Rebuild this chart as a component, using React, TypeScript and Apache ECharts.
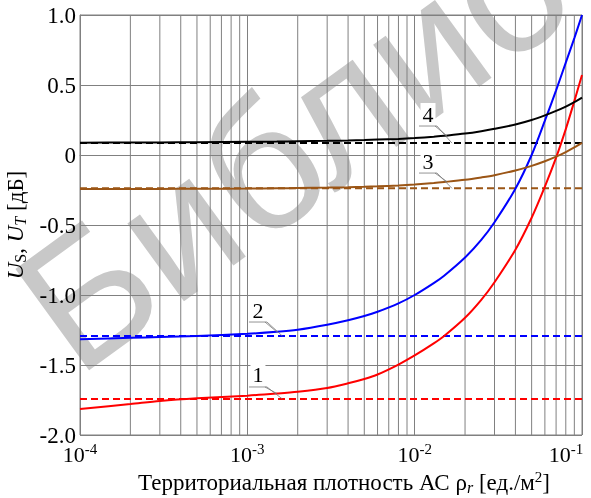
import React, { useEffect, useRef } from 'react';
import * as echarts from 'echarts';

// Territorial density of access points, units/m^2
const rho = [1e-4, 2e-4, 3e-4, 5e-4, 1e-3, 1.5e-3, 2e-3, 3e-3, 4e-3, 5e-3, 6e-3, 8e-3, 1e-2, 1.3e-2, 1.5e-2, 2e-2, 2.5e-2, 3e-2, 4e-2, 5e-2, 6e-2, 7e-2, 8e-2, 9e-2, 0.1];

// Solid curves (dB)
const curve1 = [-1.814, -1.779, -1.757, -1.738, -1.719, -1.704, -1.691, -1.664, -1.631, -1.6, -1.568, -1.497, -1.432, -1.346, -1.293, -1.163, -1.035, -0.909, -0.676, -0.448, -0.226, -0.019, 0.185, 0.385, 0.571];
const curve2 = [-1.316, -1.306, -1.3, -1.292, -1.277, -1.263, -1.248, -1.212, -1.18, -1.15, -1.12, -1.06, -1.0, -0.915, -0.862, -0.732, -0.606, -0.48, -0.241, 0.0, 0.245, 0.462, 0.66, 0.835, 1.0];
const curve3 = [-0.243, -0.242, -0.242, -0.241, -0.24, -0.238, -0.236, -0.233, -0.23, -0.227, -0.224, -0.217, -0.21, -0.2, -0.193, -0.177, -0.16, -0.144, -0.111, -0.078, -0.045, -0.012, 0.021, 0.054, 0.086];
const curve4 = [0.088, 0.089, 0.09, 0.091, 0.094, 0.096, 0.098, 0.101, 0.104, 0.107, 0.11, 0.115, 0.121, 0.13, 0.137, 0.153, 0.17, 0.187, 0.218, 0.25, 0.283, 0.315, 0.346, 0.378, 0.41];

// Dashed asymptotic levels (dB) for curves 1..4
const dashLevels = [-1.743, -1.293, -0.238, 0.085];

const curveNames = ['1', '2', '3', '4'];
const curveColors = ['#ff0000', '#0000ff', '#9b5515', '#000000'];

// Minor vertical grid positions
const minorGrid = [2e-4, 3e-4, 4e-4, 5e-4, 6e-4, 7e-4, 8e-4, 9e-4, 2e-3, 3e-3, 4e-3, 5e-3, 6e-3, 7e-3, 8e-3, 9e-3, 2e-2, 3e-2, 4e-2, 5e-2, 6e-2, 7e-2, 8e-2, 9e-2];

// Curve labels: elbow point, solid-curve target, dashed-line target (data coords)
const annotations = [
  { text: '4', elbow: [1.36e-2, 0.207], solid: [1.56e-2, 0.137], dash: [1.67e-2, 0.085] },
  { text: '3', elbow: [1.36e-2, -0.129], solid: [1.56e-2, -0.19], dash: [1.67e-2, -0.238] },
  { text: '2', elbow: [1.31e-3, -1.193], solid: [1.5e-3, -1.263], dash: [1.62e-3, -1.293] },
  { text: '1', elbow: [1.31e-3, -1.657], solid: [1.5e-3, -1.704], dash: [1.62e-3, -1.743] },
];

const SERIF = '"Liberation Serif", "Times New Roman", serif';
const GRID = '#808080';

export default function App() {
  const ref = useRef<HTMLDivElement>(null);
  useEffect(() => {
    const chart = echarts.init(ref.current!, null, { renderer: 'svg' });
    const curves = [curve1, curve2, curve3, curve4];
    const series: any[] = [];
    minorGrid.forEach((v) => {
      series.push({
        type: 'line',
        name: 'grid ' + v,
        data: [[v, -2], [v, 1]],
        showSymbol: false,
        silent: true,
        z: 1,
        lineStyle: { color: GRID, width: 1 },
      });
    });
    dashLevels.forEach((lv, i) => {
      series.push({
        type: 'line',
        name: curveNames[i] + ' dashed',
        data: [[rho[0], lv], [rho[rho.length - 1], lv]],
        showSymbol: false,
        z: 3,
        lineStyle: { color: curveColors[i], width: 2, type: [7, 4] },
      });
    });
    curves.forEach((c, i) => {
      series.push({
        type: 'line',
        name: curveNames[i],
        data: rho.map((x, j) => [x, c[j]]),
        showSymbol: false,
        smooth: 0.3,
        z: 4,
        lineStyle: { color: curveColors[i], width: 2 },
      });
    });

    const option: any = {
      animation: false,
      grid: {
        left: 80, right: 9, top: 15, bottom: 63,
        show: true, borderColor: GRID, borderWidth: 1,
        outerBoundsMode: 'none', containLabel: false,
      },
      xAxis: {
        type: 'log',
        logBase: 10,
        min: 1e-4,
        max: 0.1,
        axisLine: { show: true, lineStyle: { color: GRID } },
        axisTick: { show: false },
        splitLine: { show: true, lineStyle: { color: GRID, width: 1 } },
        axisLabel: {
          margin: 6,
          formatter: (v: number) => {
            const e = Math.round(Math.log10(v));
            return e >= -1 ? `{b|10}{s|${e}}{pad|}` : `{b|10}{s|${e}}`;
          },
          rich: {
            b: { fontFamily: SERIF, fontSize: 22, color: '#000', lineHeight: 26 },
            s: { fontFamily: SERIF, fontSize: 15, color: '#000', lineHeight: 16, verticalAlign: 'top' },
            pad: { width: 32, lineHeight: 26 },
          },
        },
        name: 'Территориальная плотность АС {g|ρ}{r|r} [ед./м{s|2}]',
        nameLocation: 'middle',
        nameGap: 32,
        nameTextStyle: {
          fontFamily: SERIF,
          fontSize: 23,
          color: '#000',
          lineHeight: 26,
          padding: [0, 0, 0, 26],
          rich: {
            g: { fontFamily: SERIF, fontSize: 23, color: '#000', lineHeight: 26 },
            r: { fontFamily: SERIF, fontSize: 16, fontStyle: 'italic', color: '#000', lineHeight: 18, verticalAlign: 'bottom' },
            s: { fontFamily: SERIF, fontSize: 15, color: '#000', lineHeight: 16, verticalAlign: 'top' },
          },
        },
      },
      yAxis: {
        type: 'value',
        min: -2,
        max: 1,
        interval: 0.5,
        axisLine: { show: true, lineStyle: { color: GRID } },
        axisTick: { show: false },
        splitLine: { show: true, lineStyle: { color: GRID, width: 1 } },
        axisLabel: {
          margin: 4,
          fontFamily: SERIF,
          fontSize: 23,
          color: '#000',
          formatter: (v: number) => (Math.abs(v) < 1e-9 ? '0' : v.toFixed(1)),
        },
        name: '{i|U}{sub|S}, {i|U}{subi|T} [дБ]',
        nameLocation: 'middle',
        nameGap: 48,
        nameTextStyle: {
          fontFamily: SERIF,
          fontSize: 23,
          color: '#000',
          lineHeight: 26,
          rich: {
            i: { fontFamily: SERIF, fontSize: 23, fontStyle: 'italic', color: '#000', lineHeight: 26 },
            sub: { fontFamily: SERIF, fontSize: 16, color: '#000', lineHeight: 18, verticalAlign: 'bottom' },
            subi: { fontFamily: SERIF, fontSize: 16, fontStyle: 'italic', color: '#000', lineHeight: 18, verticalAlign: 'bottom' },
          },
        },
      },
      series,
    };
    chart.setOption(option);

    const graphics: any[] = [
      {
        type: 'text',
        x: 40,
        y: 328,
        rotation: (36 * Math.PI) / 180,
        z: -10,
        silent: true,
        style: {
          text: 'Библиотека',
          fontSize: 182,
          fontFamily: '"Liberation Sans", Arial, sans-serif',
          fill: '#c8c8c8',
          textAlign: 'left',
          textVerticalAlign: 'middle',
          align: 'left',
          verticalAlign: 'middle',
        },
      },
    ];
    annotations.forEach((a) => {
      const e = chart.convertToPixel({ gridIndex: 0 }, a.elbow) as number[];
      const s = chart.convertToPixel({ gridIndex: 0 }, a.solid) as number[];
      const d = chart.convertToPixel({ gridIndex: 0 }, a.dash) as number[];
      graphics.push({
        type: 'text',
        x: e[0] - 9,
        y: e[1] - 1,
        z: 5,
        style: {
          text: a.text,
          fontSize: 22,
          fontFamily: SERIF,
          fill: '#000',
          textAlign: 'center',
          textVerticalAlign: 'bottom',
          align: 'center',
          verticalAlign: 'bottom',
          backgroundColor: '#fff',
          padding: [0, 2, 0, 2],
        },
      });
      const ls = { stroke: '#777', lineWidth: 0.8 };
      graphics.push({ type: 'line', z: 6, shape: { x1: e[0] - 18, y1: e[1], x2: e[0], y2: e[1] }, style: ls });
      graphics.push({ type: 'line', z: 6, shape: { x1: e[0] - 2, y1: e[1], x2: s[0], y2: s[1] }, style: ls });
      graphics.push({ type: 'line', z: 6, shape: { x1: e[0], y1: e[1], x2: d[0], y2: d[1] }, style: ls });
    });
    chart.setOption({ graphic: graphics });

    return () => chart.dispose();
  }, []);
  return <div ref={ref} style={{ position: 'fixed', left: 0, top: 0, width: 591, height: 498 }} />;
}
